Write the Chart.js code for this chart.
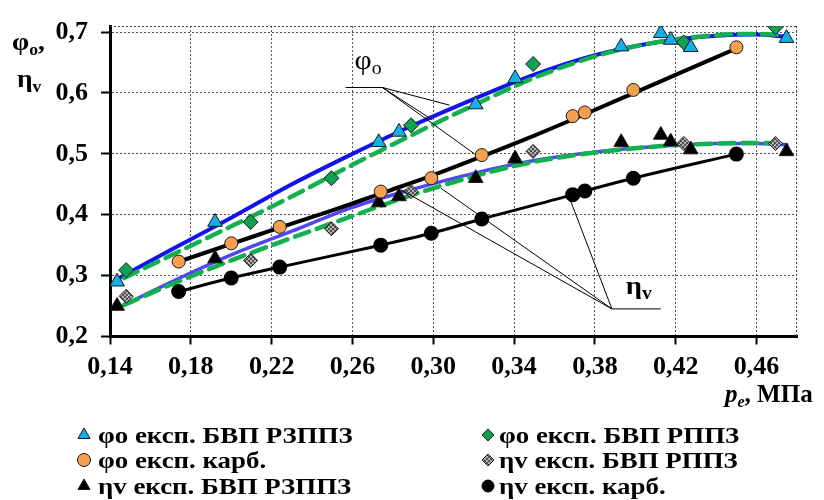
<!DOCTYPE html>
<html>
<head>
<meta charset="utf-8">
<script src="https://cdn.jsdelivr.net/npm/chart.js@4.4.1/dist/chart.umd.min.js"></script>
<style>
  html, body { margin: 0; padding: 0; background: #fff; }
  #boite { width: 824px; height: 500px; position: relative; }
</style>
</head>
<body>
<div id="boite"><canvas id="graphe"></canvas></div>
<script>
// tick labels
var xTicks = [0.14, 0.18, 0.22, 0.26, 0.30, 0.34, 0.38, 0.42, 0.46];
var yTicks = [0.2, 0.3, 0.4, 0.5, 0.6, 0.7];

// experiment points, БВП РЗППЗ
var rzX = [0.1435, 0.192, 0.273, 0.283, 0.321, 0.3405, 0.393, 0.4126, 0.4175, 0.4274, 0.4748];
var phiRz = [0.290, 0.388, 0.519, 0.536, 0.581, 0.624, 0.676, 0.698, 0.687, 0.675, 0.690];
var etaRz = [0.250, 0.328, 0.420, 0.430, 0.460, 0.492, 0.519, 0.531, 0.520, 0.507, 0.504];

// experiment points, БВП РППЗ
var rpX = [0.148, 0.2096, 0.2496, 0.289, 0.3494, 0.424, 0.4694];
var phiRp = [0.309, 0.388, 0.460, 0.547, 0.6475, 0.683, 0.708];
var etaRp = [0.266, 0.325, 0.377, 0.438, 0.504, 0.517, 0.517];

// experiment points, карб.
var kX = [0.174, 0.2, 0.224, 0.274, 0.299, 0.324, 0.369, 0.375, 0.399, 0.45];
var phiK = [0.323, 0.353, 0.380, 0.438, 0.460, 0.498, 0.562, 0.568, 0.605, 0.675];
var etaK = [0.274, 0.296, 0.314, 0.350, 0.3695, 0.393, 0.433, 0.439, 0.460, 0.4996];

// approximation curves
var curveRzX = [0.144, 0.17, 0.2, 0.23, 0.26, 0.29, 0.32, 0.35, 0.38, 0.41, 0.44, 0.46, 0.475];
var curvePhiRz = [0.295, 0.342, 0.395, 0.450, 0.500, 0.547, 0.590, 0.630, 0.662, 0.683, 0.694, 0.696, 0.692];
var curveEtaRz = [0.247, 0.289, 0.334, 0.373, 0.412, 0.442, 0.468, 0.489, 0.503, 0.512, 0.517, 0.517, 0.515];
var curveRpX = [0.147, 0.17, 0.2, 0.23, 0.26, 0.29, 0.32, 0.35, 0.38, 0.41, 0.44, 0.46, 0.47];
var curvePhiRp = [0.296, 0.333, 0.381, 0.430, 0.482, 0.532, 0.580, 0.625, 0.660, 0.683, 0.695, 0.697, 0.696];
var curveEtaRp = [0.252, 0.285, 0.325, 0.362, 0.398, 0.433, 0.463, 0.487, 0.502, 0.512, 0.517, 0.518, 0.517];
var curveKX = [0.175, 0.2, 0.225, 0.25, 0.275, 0.3, 0.325, 0.35, 0.375, 0.4, 0.425, 0.45];
var curvePhiK = [0.324, 0.352, 0.380, 0.407, 0.436, 0.465, 0.497, 0.530, 0.565, 0.601, 0.637, 0.673];

// leader lines for the labels [x, y]
var phiHub = [0.2748, 0.609], phiHubEnd = [0.2566, 0.609];
var phiTargets = [[0.308, 0.580], [0.2995, 0.556], [0.3205, 0.4997]];
var etaHub = [0.3884, 0.2453], etaHubEnd = [0.4126, 0.2453];
var etaTargets = [[0.3677, 0.425], [0.284, 0.441], [0.3038, 0.4435]];
var phiLabelPos = [0.261, 0.6396];
var etaLabelPos = [0.3952, 0.269];

var SERIF = '"Liberation Serif", "Times New Roman", serif';

function pts(xs, ys) {
  var out = [];
  for (var i = 0; i < xs.length; i++) out.push({ x: xs[i], y: ys[i] });
  return out;
}

function hachure() {
  var c = document.createElement('canvas');
  c.width = 4; c.height = 4;
  var g = c.getContext('2d');
  g.fillStyle = '#b0b0b0'; g.fillRect(0, 0, 4, 4);
  g.fillStyle = '#505050'; g.fillRect(0, 0, 2, 2); g.fillRect(2, 2, 2, 2);
  return g.createPattern(c, 'repeat');
}

function marque(label, data, style, fill, radius, order) {
  return {
    label: label, data: data, showLine: false, pointStyle: style,
    pointRadius: radius, pointHoverRadius: radius,
    backgroundColor: fill, borderColor: '#1a1a1a', pointBorderWidth: 1,
    order: order
  };
}

function courbe(data, color, width, dash, order) {
  return {
    label: '', data: data, showLine: true, pointRadius: 0, pointHoverRadius: 0,
    borderColor: color, borderWidth: width, borderDash: dash,
    borderCapStyle: 'round', cubicInterpolationMode: 'monotone',
    fill: false, order: order
  };
}

var datasets = [
  marque('φo експ. БВП РЗППЗ', pts(rzX, phiRz), 'triangle', '#12aee8', 8.5, 1),
  marque('φo експ. БВП РППЗ', pts(rpX, phiRp), 'rectRot', '#10a050', 7.5, 2),
  marque('φo експ. карб.', pts(kX, phiK), 'circle', '#f5a050', 6.5, 1),
  marque('ηv експ. БВП РППЗ', pts(rpX, etaRp), 'rectRot', hachure(), 7, 2),
  marque('ηv експ. БВП РЗППЗ', pts(rzX, etaRz), 'triangle', '#000', 8.5, 1),
  {
    label: 'ηv експ. карб.', data: pts(kX, etaK), showLine: true,
    pointStyle: 'circle', pointRadius: 6, pointHoverRadius: 6,
    backgroundColor: '#000', borderColor: '#000', borderWidth: 3,
    cubicInterpolationMode: 'monotone', order: 3
  },
  courbe(pts(curveRzX, curvePhiRz), '#1212f2', 4, [], 11),
  courbe(pts(curveRpX, curvePhiRp), '#12b04e', 4.5, [15, 8], 10),
  courbe(pts(curveKX, curvePhiK), '#000', 4, [], 11),
  courbe(pts(curveRzX, curveEtaRz), '#5246f4', 3.5, [], 11),
  courbe(pts(curveRpX, curveEtaRp), '#12b04e', 4.5, [15, 8], 10)
];

// text with subscripts: parts = [[text, font, dy], ...]; sx = horizontal stretch
function texteIndice(ctx, x, y, parts, sx) {
  sx = sx || 1;
  ctx.save();
  ctx.translate(x, y);
  ctx.scale(sx, 1);
  ctx.textAlign = 'left';
  ctx.textBaseline = 'alphabetic';
  var cx = 0;
  for (var i = 0; i < parts.length; i++) {
    ctx.font = parts[i][1];
    ctx.fillText(parts[i][0], cx, parts[i][2]);
    cx += ctx.measureText(parts[i][0]).width;
  }
  ctx.restore();
}

var decor = {
  id: 'decor',
  afterDraw: function (chart) {
    var ctx = chart.ctx, a = chart.chartArea;
    var sx = chart.scales.x, sy = chart.scales.y;
    function px(p) { return [sx.getPixelForValue(p[0]), sy.getPixelForValue(p[1])]; }
    ctx.save();

    // dotted frame, top and right
    ctx.strokeStyle = '#444'; ctx.lineWidth = 1; ctx.setLineDash([2, 2]);
    ctx.beginPath();
    ctx.moveTo(a.left, a.top + 0.5); ctx.lineTo(a.right, a.top + 0.5);
    ctx.moveTo(a.right - 0.5, a.top); ctx.lineTo(a.right - 0.5, a.bottom);
    ctx.stroke();
    ctx.setLineDash([]);

    // leader lines
    ctx.strokeStyle = '#000'; ctx.lineWidth = 1;
    [[phiHub, phiHubEnd, phiTargets], [etaHub, etaHubEnd, etaTargets]].forEach(function (g) {
      var h = px(g[0]), e = px(g[1]);
      ctx.beginPath();
      ctx.moveTo(e[0], e[1]); ctx.lineTo(h[0], h[1]);
      g[2].forEach(function (t) { var q = px(t); ctx.moveTo(h[0], h[1]); ctx.lineTo(q[0], q[1]); });
      ctx.stroke();
    });

    ctx.fillStyle = '#000';
    var p = px(phiLabelPos);
    texteIndice(ctx, p[0], p[1], [['φ', '27px ' + SERIF, 0], ['o', '18px ' + SERIF, 5]], 1.1);
    p = px(etaLabelPos);
    texteIndice(ctx, p[0], p[1], [['η', 'bold 26px ' + SERIF, 0], ['v', 'bold 18px ' + SERIF, 5]], 1.1);

    // axis titles
    texteIndice(ctx, 12, 50, [['φ', 'bold 25px ' + SERIF, 0], ['o', 'bold 16px ' + SERIF, 5], [',', 'bold 25px ' + SERIF, 0]], 1.1);
    texteIndice(ctx, 17, 87, [['η', 'bold 25px ' + SERIF, 0], ['v', 'bold 16px ' + SERIF, 5]], 1.1);
    texteIndice(ctx, 725, 402, [['p', 'italic bold 25px ' + SERIF, 0], ['e', 'italic bold 16px ' + SERIF, 5], [', МПа', 'bold 25px ' + SERIF, 0]], 1);

    // legend, two columns: [marker x, text x, marker size]
    var cols = [[84, 98, 7], [488, 499, 6]];
    var rows = [435, 460, 486];
    for (var i = 0; i < 6; i++) {
      var ds = chart.data.datasets[i];
      var c = cols[i % 2], yy = rows[Math.floor(i / 2)];
      ctx.fillStyle = ds.backgroundColor;
      ctx.strokeStyle = ds.borderColor;
      ctx.lineWidth = 1;
      Chart.helpers.drawPoint(ctx, { pointStyle: ds.pointStyle, radius: Math.min(ds.pointRadius, c[2]), rotation: 0, borderWidth: 1 }, c[0], yy);
      ctx.fillStyle = '#000';
      texteIndice(ctx, c[1], yy + 8, [[ds.label, 'bold 24px ' + SERIF, 0]], 1.12);
    }
    ctx.restore();
  }
};

var tickFont = { family: SERIF, size: 26, weight: 'bold', lineHeight: 1 };

new Chart(document.getElementById('graphe'), {
  type: 'scatter',
  data: { datasets: datasets },
  options: {
    responsive: true,
    maintainAspectRatio: false,
    animation: false,
    layout: { padding: { left: 0, right: 27, top: 16, bottom: 0 } },
    plugins: { legend: { display: false }, tooltip: { enabled: false } },
    scales: {
      x: {
        type: 'linear', min: 0.14, max: 0.48,
        afterBuildTicks: function (s) { s.ticks = xTicks.map(function (v) { return { value: v }; }); },
        afterFit: function (s) { s.height = 163.5; },
        ticks: {
          color: '#000', font: tickFont, padding: 10, maxRotation: 0, autoSkip: false,
          callback: function (v) { return v.toFixed(2).replace('.', ','); }
        },
        grid: { color: '#555', lineWidth: 1, tickLength: 8, tickColor: '#000', tickWidth: 2 },
        border: { color: '#000', width: 3, dash: [2, 2] }
      },
      y: {
        type: 'linear', min: 0.2, max: 0.71,
        afterBuildTicks: function (s) { s.ticks = yTicks.map(function (v) { return { value: v }; }); },
        afterFit: function (s) { s.width = 110; },
        ticks: {
          color: '#000', font: tickFont, padding: 13,
          callback: function (v) { return v.toFixed(1).replace('.', ','); }
        },
        grid: { color: '#555', lineWidth: 1, tickLength: 9, tickColor: '#000', tickWidth: 2 },
        border: { color: '#000', width: 3, dash: [2, 2] }
      }
    }
  },
  plugins: [decor]
});
</script>
</body>
</html>
